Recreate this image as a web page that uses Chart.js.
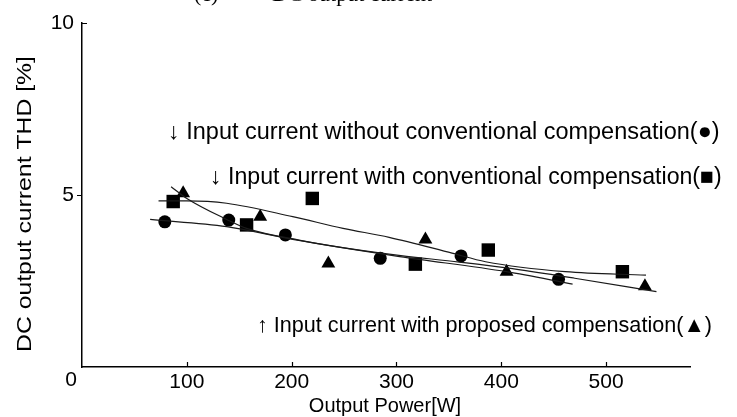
<!DOCTYPE html>
<html lang="en">

<head>
	<meta charset="UTF-8" />
	<title>DC output current THD</title>
	<script src="https://cdn.jsdelivr.net/npm/chart.js@4"></script>
	<style>
		html, body { margin: 0; padding: 0; background: #fff; }
		canvas { display: block; }
	</style>
</head>

<body>
	<canvas id="thd" width="737" height="417"></canvas>
	<script>
		// Measured THD points, one pair of arrays per input current case
		const circleX = [79, 140, 194, 284.5, 361.6, 454.6];
		const circleY = [4.22, 4.27, 3.84, 3.16, 3.23, 2.55];
		const squareX = [87, 157, 219.7, 318, 387.6, 515.5];
		const squareY = [4.81, 4.13, 4.90, 2.99, 3.40, 2.77];
		const triX = [96.5, 170, 235, 327.6, 405, 537];
		const triY = [5.05, 4.37, 3.01, 3.71, 2.77, 2.35];

		// Trend curves drawn through each set
		const circleFitX = [65, 138, 201, 303, 405, 468];
		const circleFitY = [4.29, 4.08, 3.71, 3.21, 2.77, 2.41];
		const squareFitX = [73, 100, 138, 201, 249, 293, 353, 385, 461, 538];
		const squareFitY = [4.83, 4.83, 4.76, 4.37, 4.03, 3.77, 3.31, 3.06, 2.77, 2.67];
		const triFitX = [85, 100, 138, 157, 207, 293, 360, 405, 470, 548];
		const triFitY = [5.24, 4.90, 4.29, 4.03, 3.69, 3.28, 3.05, 2.88, 2.58, 2.19];

		const xTicks = [100, 200, 300, 400, 500];
		const yTicks = [5, 10];

		const notes = [
			{ text: '\u2193 Input current without conventional compensation(\u25CF)', x: 168, y: 133, w: 552 },
			{ text: '\u2193 Input current with conventional compensation(\u25A0)', x: 210, y: 178, w: 512 },
			{ text: '\u2191 Input current with proposed compensation(\u25B2)', x: 257, y: 326, w: 455 },
		];

		const zip = (xs, ys) => xs.map((x, i) => ({ x, y: ys[i] }));

		function marks(label, xs, ys, style, radius) {
			return {
				label,
				data: zip(xs, ys),
				pointStyle: style,
				pointRadius: radius,
				backgroundColor: '#000',
				borderColor: '#000',
				borderWidth: 0,
				showLine: false,
			};
		}

		function curve(label, xs, ys) {
			return {
				label,
				data: zip(xs, ys),
				showLine: true,
				pointRadius: 0,
				borderColor: '#1a1a1a',
				borderWidth: 1.2,
				cubicInterpolationMode: 'monotone',
				fill: false,
			};
		}

		const SANS = '"Liberation Sans", Arial, sans-serif';
		const NARROW = '"Liberation Sans Narrow", "Liberation Sans", Arial, sans-serif';

		// draw text stretched or squeezed to a given width
		function fitText(ctx, text, size, family, width) {
			ctx.font = size + 'px ' + family;
			const k = width / ctx.measureText(text).width;
			ctx.save();
			ctx.scale(k, 1);
			ctx.fillText(text, 0, 0);
			ctx.restore();
		}

		// Axis ticks, labels and the notes written inside the plot
		const decorations = {
			id: 'decorations',
			afterDraw(chart) {
				const { ctx, chartArea: area, scales: { x, y } } = chart;
				ctx.save();
				ctx.strokeStyle = '#000';
				ctx.lineWidth = 1.2;
				ctx.beginPath();
				xTicks.forEach(v => {
					const px = Math.round(x.getPixelForValue(v)) + 0.5;
					ctx.moveTo(px, area.bottom);
					ctx.lineTo(px, area.bottom - 5);
				});
				const p5 = Math.round(y.getPixelForValue(5)) + 0.5;
				ctx.moveTo(area.left, p5);
				ctx.lineTo(area.left - 5, p5);
				const p10 = Math.round(y.getPixelForValue(10)) + 0.5;
				ctx.moveTo(area.left, p10);
				ctx.lineTo(area.left + 5, p10);
				ctx.stroke();

				ctx.fillStyle = '#000';
				ctx.textBaseline = 'middle';

				// y tick labels
				ctx.font = '21px ' + SANS;
				ctx.textAlign = 'right';
				yTicks.forEach(v => ctx.fillText(String(v), area.left - 8, y.getPixelForValue(v)));

				// x tick labels, the origin sits left of the corner
				ctx.font = '21px ' + NARROW;
				ctx.textAlign = 'center';
				xTicks.forEach(v => ctx.fillText(String(v), x.getPixelForValue(v), area.bottom + 15));
				ctx.fillText('0', area.left - 11, area.bottom + 13);

				// axis titles
				ctx.font = '20px ' + NARROW;
				ctx.fillText('Output Power[W]', 385, 406);

				ctx.save();
				ctx.translate(25, 204);
				ctx.rotate(-Math.PI / 2);
				fitText(ctx, 'DC output current THD [%]', 21, SANS, 296);
				ctx.restore();

				// notes, each sized to its span
				ctx.textAlign = 'left';
				notes.forEach(n => {
					ctx.font = '20px ' + SANS;
					const size = 20 * n.w / ctx.measureText(n.text).width;
					ctx.font = size.toFixed(2) + 'px ' + SANS;
					ctx.fillText(n.text, n.x, n.y);
				});

				// caption above the plot, mostly cut off by the top edge
				ctx.font = '22px "Liberation Serif", "Times New Roman", serif';
				ctx.textBaseline = 'alphabetic';
				ctx.fillText('(c)', 194, 1);
				ctx.fillText('DC output current', 272, 1);
				ctx.restore();
			},
		};

		new Chart(document.getElementById('thd'), {
			type: 'scatter',
			data: {
				datasets: [
					curve('circle fit', circleFitX, circleFitY),
					curve('square fit', squareFitX, squareFitY),
					curve('triangle fit', triFitX, triFitY),
					marks('without conventional compensation', circleX, circleY, 'circle', 6.5),
					marks('with conventional compensation', squareX, squareY, 'rect', 9.5),
					marks('with proposed compensation', triX, triY, 'triangle', 8),
				],
			},
			options: {
				responsive: false,
				animation: false,
				layout: { padding: { top: 23, right: 47, left: 0, bottom: 0 } },
				plugins: {
					legend: { display: false },
					tooltip: { enabled: false },
				},
				scales: {
					x: {
						type: 'linear',
						min: 0,
						max: 580,
						ticks: { display: false },
						grid: { display: false },
						border: { display: true, color: '#000', width: 1.5 },
						afterFit: s => { s.height = 50; },
					},
					y: {
						min: 0,
						max: 10,
						ticks: { display: false },
						grid: { display: false },
						border: { display: true, color: '#000', width: 1.5 },
						afterFit: s => { s.width = 82; },
					},
				},
			},
			plugins: [decorations],
		});
	</script>
</body>

</html>
